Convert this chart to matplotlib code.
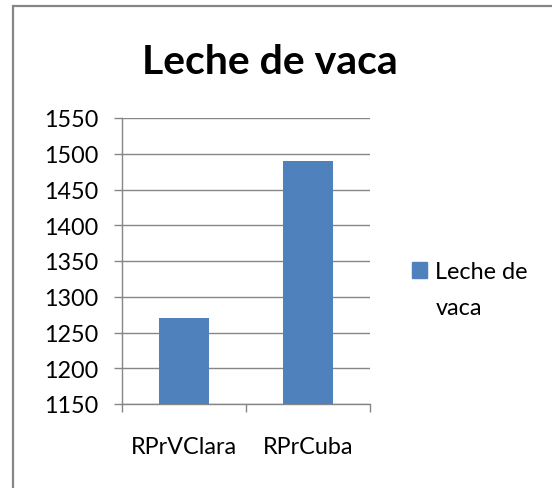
import matplotlib
matplotlib.use("Agg")
import matplotlib.pyplot as plt
from matplotlib.patches import Rectangle

categories = ["RPrVClara", "RPrCuba"]
values = [1270, 1490]
series_name = "Leche de vaca"
title = "Leche de vaca"
yticks = [1150, 1200, 1250, 1300, 1350, 1400, 1450, 1500, 1550]

plt.rcParams['font.family'] = ['Lato', 'DejaVu Sans']
GRAY = "#868686"
BLUE = "#4F81BD"
FS = 16.8

W, H = 552, 489
fig = plt.figure(figsize=(W / 100, H / 100), dpi=100)
ax = fig.add_axes([122 / W, 1 - 405 / H, (370 - 122) / W, (405 - 119) / H])

x = list(range(len(categories)))
ax.bar(x, values, width=0.4, color=BLUE, zorder=3)
ax.set_ylim(yticks[0], yticks[-1])
ax.set_xlim(-0.5, len(categories) - 0.5)
ax.set_yticks(yticks)
ax.set_yticklabels([str(v) for v in yticks])
ax.yaxis.grid(True, color=GRAY, linewidth=1.0, zorder=0)
ax.set_axisbelow(True)

ax.set_xticks([i - 0.5 for i in range(len(categories) + 1)])
ax.set_xticklabels([])
ax.set_xticks(x, minor=True)
ax.set_xticklabels(categories, minor=True)
ax.tick_params(axis='x', which='major', length=6, width=1, color=GRAY, direction='out')
ax.tick_params(axis='x', which='minor', length=0, pad=23, labelsize=FS)
ax.tick_params(axis='y', length=6, width=1, color=GRAY, direction='out', pad=11, labelsize=FS)

for s in ['top', 'right']:
    ax.spines[s].set_visible(False)
for s in ['left', 'bottom']:
    ax.spines[s].set_color(GRAY)
    ax.spines[s].set_linewidth(1.0)

fig.text(270 / W, 1 - 74 / H, title, ha='center', va='baseline',
         fontsize=29.5, fontweight='bold')

leg = fig.legend([plt.Rectangle((0, 0), 1, 1, color=BLUE)], ["Leche de"],
                 loc='upper left', bbox_to_anchor=(412 / W, 1 - 262 / H),
                 frameon=False, fontsize=FS, handlelength=0.65, handleheight=0.65,
                 handletextpad=0.35, borderpad=0, borderaxespad=0)
fig.text(436 / W, 1 - 315 / H, "vaca", ha='left', va='baseline', fontsize=FS)

fig.patches.append(Rectangle((13 / W, -0.1), 1.2, 1 - 7 / H + 0.1,
                             transform=fig.transFigure, fill=False,
                             edgecolor=GRAY, linewidth=1.6, clip_on=False))

fig.savefig("out.png", dpi=100)
